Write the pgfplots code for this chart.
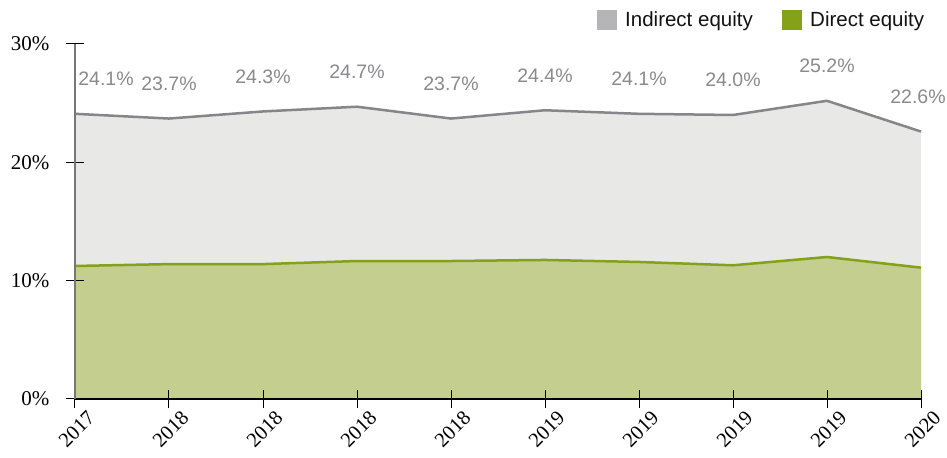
\documentclass[border=0pt]{standalone}
\usepackage{pgfplots}
\pgfplotsset{compat=1.18}
\usepackage{fontspec}
\setmainfont{Liberation Sans}
\newfontfamily\seriffont{Liberation Serif}
\definecolor{grayline}{HTML}{86868A}
\definecolor{grayfill}{HTML}{E8E8E6}
\definecolor{greenline}{HTML}{84A11A}
\definecolor{greenfill}{HTML}{C3CE8F}
\definecolor{labelgray}{HTML}{8A8A8E}
\definecolor{leggray}{HTML}{B5B5B8}
\definecolor{axisgray}{HTML}{777777}
\begin{document}
\begin{tikzpicture}[x=1bp,y=1bp]
\useasboundingbox (-75,-59) rectangle (872,399);
\begin{axis}[
  at={(0,0)}, anchor=south west,
  scale only axis, width=846bp, height=355bp,
  xmin=0, xmax=9, ymin=0, ymax=30,
  axis on top, clip=false,
  axis x line=bottom, axis y line=left,
  x axis line style={-, black, line width=1.2bp},
  y axis line style={-, axisgray, line width=2.8bp},
  tick style={black, line width=1bp},
  major tick length=18bp, tick align=center,
  xtick={0,...,9},
  xticklabels={2017,2018,2018,2018,2018,2019,2019,2019,2019,2020},
  xticklabel style={rotate=45, anchor=north east, font=\seriffont\fontsize{20.5bp}{22bp}\selectfont, inner sep=1bp, xshift=8bp, yshift=-8bp},
  ytick={0,10,20,30},
  yticklabel={\pgfmathprintnumber{\tick}\%},
  yticklabel style={font=\seriffont\fontsize{21bp}{23bp}\selectfont, xshift=-13bp},
  /pgf/number format/assume math mode=true,
]
\addplot[fill=grayfill, draw=none] coordinates {(0,24.1)(1,23.7)(2,24.3)(3,24.7)(4,23.7)(5,24.4)(6,24.1)(7,24.0)(8,25.2)(9,22.6)} \closedcycle;
\addplot[fill=greenfill, draw=none] coordinates {(0,11.24)(1,11.4)(2,11.4)(3,11.66)(4,11.66)(5,11.75)(6,11.58)(7,11.3)(8,12.0)(9,11.1)} \closedcycle;
\addplot[color=grayline, line width=2.5bp, mark=none,
  nodes near coords={\pgfmathprintnumber[fixed,fixed zerofill,precision=1]{\pgfplotspointmeta}\%},
  point meta=explicit,
  every node near coord/.append style={anchor=center, yshift=35bp, text=labelgray, font=\fontsize{19.5bp}{21bp}\selectfont},
  coordinate style/.condition={x==0}{xshift=31bp},
  coordinate style/.condition={x==9}{xshift=-3bp},
] coordinates {(0,24.1)[24.1](1,23.7)[23.7](2,24.3)[24.3](3,24.7)[24.7](4,23.7)[23.7](5,24.4)[24.4](6,24.1)[24.1](7,24.0)[24.0](8,25.2)[25.2](9,22.6)[22.6]};
\addplot[color=greenline, line width=2.5bp, mark=none] coordinates {(0,11.24)(1,11.4)(2,11.4)(3,11.66)(4,11.66)(5,11.75)(6,11.58)(7,11.3)(8,12.0)(9,11.1)};
\end{axis}
\fill[leggray] (522,369) rectangle (542,389);
\node[anchor=west, inner sep=0, text=black!93, font=\fontsize{20.5bp}{22bp}\selectfont] at (550,378) {Indirect equity};
\fill[greenline] (707,369) rectangle (727,389);
\node[anchor=west, inner sep=0, text=black!93, font=\fontsize{20.5bp}{22bp}\selectfont] at (735,378) {Direct equity};
\end{tikzpicture}
\end{document}
